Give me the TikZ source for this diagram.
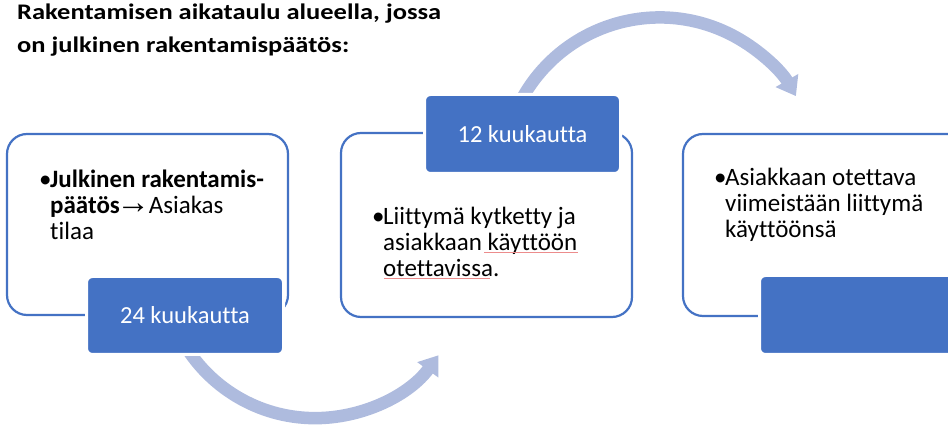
\documentclass[tikz,border=0pt]{standalone}
\usepackage{fontspec}
\setmainfont{Carlito}[Ligatures=NoCommon]
\newfontfamily\arrowfont{Liberation Sans}
\usetikzlibrary{arrows.meta}
\definecolor{accentblue}{RGB}{68,114,196}
\definecolor{arcblue}{RGB}{174,187,222}
\definecolor{spellred}{RGB}{236,140,140}
\newcommand\bulletmark{\makebox[11pt][l]{•}}
\newcommand\bulletgap{\hspace*{11pt}}
\newcommand\thinarrow{\kern-3.5pt\raisebox{0pt}{\scalebox{1.35}{\arrowfont\bfseries →}}\kern-7pt}
\begin{document}
\begin{tikzpicture}[x=1pt,y=1pt,
  panel/.style={draw=accentblue, line width=2.2pt, rounded corners=20pt, fill=white, inner sep=0pt},
  tag/.style={fill=accentblue, draw=white, line width=3pt, rounded corners=6pt, inner sep=0pt, text=white, font=\fontsize{24.5}{28}\selectfont},
  bodytext/.style={anchor=base west, inner sep=0pt, align=left, font=\fontsize{25}{26.4}\selectfont},
  titletext/.style={anchor=base west, inner sep=0pt, align=left, font=\fontsize{26.5}{38.5}\selectfont\bfseries, yscale=0.84, transform shape},
  cyclearrow/.style={draw=arcblue, line width=12.5pt, -{Triangle[length=18pt,width=25pt]}},
  squiggle/.style={draw=spellred, line width=0.9pt}
]
\useasboundingbox (0,0) rectangle (948,428);
\clip (0,0) rectangle (948,428);

% title
\node[titletext] (title) at (17,375.7) {Rakentamisen aikataulu alueella, jossa\\on julkinen rakentamispäätös:};

% cycle arrows (behind)
\coordinate (arcAstart) at (184.3,83.8);
\draw[cyclearrow] (arcAstart) arc[start angle=211, end angle=324, radius=152.5pt];
\coordinate (arcBstart) at (522.1,329.5);
\draw[cyclearrow] (arcBstart) arc[start angle=151, end angle=30, radius=157.3pt];

% panels
\node[panel, minimum width=281pt, minimum height=181pt] (p1) at (147.5,203.5) {};
\node[panel, minimum width=291pt, minimum height=184pt] (p2) at (486.5,203) {};
\node[panel, minimum width=290pt, minimum height=182pt] (p3) at (828,203) {};

% tags
\node[tag, minimum width=197pt, minimum height=78pt] (t1) at (185,112.5) {24 kuukautta};
\node[tag, minimum width=196pt, minimum height=79pt] (t2) at (522.5,294) {12 kuukautta};
\node[tag, minimum width=197pt, minimum height=79pt] (t3) at (858,113) {};

% panel texts (anchored at the baseline of the last line)
\node[bodytext] (x1) at (39,188) {\bulletmark\textbf{Julkinen rakentamis-}\\\bulletgap\textbf{päätös}\thinarrow\ Asiakas\\\bulletgap tilaa};
\node[bodytext] (x2) at (372,151) {\bulletmark Liittymä kytketty ja\\\bulletgap asiakkaan käyttöön\\\bulletgap otettavissa.};
\node[bodytext] (x3) at (714,190) {\bulletmark Asiakkaan otettava\\\bulletgap viimeistään liittymä\\\bulletgap käyttöönsä};

% spell-check marks
\draw[squiggle] (484,176) -- (578,176);
\draw[squiggle] (384,149.5) -- (490,149.5);
\end{tikzpicture}
\end{document}
